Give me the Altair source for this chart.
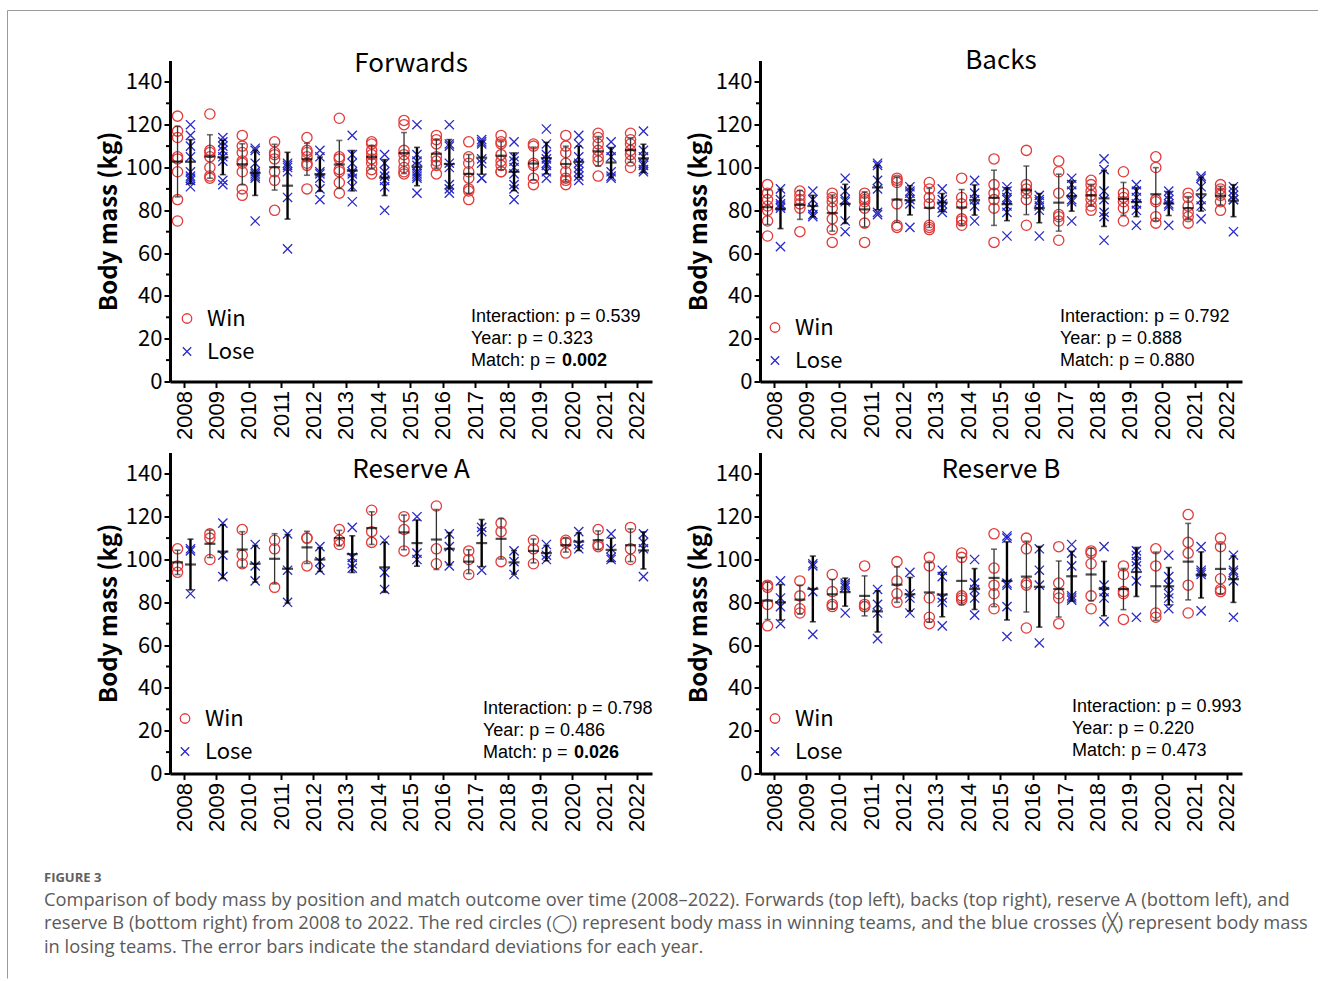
import altair as alt
import pandas as pd

YEARS = list(range(2008, 2023))

# ---------------- data ----------------
fw_win = [
    [124, 117, 114, 105, 104, 98, 85, 75],
    [125, 108, 107, 105, 100, 96, 95],
    [115, 110, 107, 103, 102, 98, 90, 87],
    [112, 107, 106, 104, 98, 94, 80],
    [114, 108, 107, 105, 102, 101, 90],
    [123, 105, 104, 99, 98, 93, 88],
    [112, 111, 108, 106, 104, 102, 99, 97],
    [122, 120, 108, 106, 103, 100, 98, 97],
    [115, 113, 111, 105, 103, 101, 97],
    [112, 105, 102, 98, 95, 90, 89, 85],
    [115, 112, 111, 106, 103, 101, 98, 98],
    [111, 110, 102, 101, 95, 92],
    [115, 110, 107, 102, 98, 95, 94, 92],
    [116, 114, 111, 108, 105, 103, 96],
    [116, 113, 111, 108, 106, 103, 100],
]
fw_lose = [
    [120, 115, 110, 105, 98, 96, 95, 94, 91],
    [114, 112, 110, 108, 105, 103, 94, 92],
    [109, 108, 102, 98, 97, 96, 95, 75],
    [102, 101, 100, 98, 86, 62],
    [108, 105, 98, 97, 95, 90, 85],
    [115, 106, 102, 98, 97, 95, 91, 84],
    [106, 102, 98, 96, 94, 91, 80],
    [120, 106, 103, 101, 98, 97, 96, 95, 88],
    [120, 111, 110, 102, 100, 92, 90, 88],
    [113, 112, 111, 104, 102, 95, 95],
    [112, 105, 103, 100, 97, 92, 90, 85],
    [118, 111, 106, 104, 102, 101, 98, 95],
    [115, 111, 105, 102, 100, 98, 96, 94],
    [112, 108, 105, 98, 96, 95],
    [117, 108, 105, 102, 101, 99, 98],
]
bk_win = [
    [92, 88, 85, 82, 80, 75, 68],
    [89, 87, 85, 83, 81, 70],
    [88, 86, 84, 81, 76, 71, 65],
    [88, 86, 85, 84, 81, 74, 65],
    [95, 94, 93, 83, 73, 72],
    [93, 90, 86, 83, 73, 72, 71],
    [95, 86, 83, 76, 75, 73],
    [104, 92, 88, 85, 81, 65],
    [108, 92, 90, 88, 85, 73],
    [103, 98, 88, 78, 77, 75, 66],
    [94, 92, 89, 87, 85, 82, 80],
    [98, 88, 86, 84, 81, 75],
    [105, 100, 85, 84, 77, 74],
    [88, 86, 82, 79, 77, 74],
    [92, 90, 88, 87, 84, 80],
]
bk_lose = [
    [90, 85, 83, 82, 81, 63],
    [89, 85, 81, 78, 77],
    [95, 89, 85, 84, 75, 70],
    [102, 101, 94, 90, 79, 78],
    [91, 89, 88, 85, 83, 72],
    [90, 85, 83, 81, 79],
    [94, 88, 85, 82, 75],
    [91, 89, 86, 85, 82, 79, 68],
    [87, 85, 84, 82, 80, 68],
    [95, 92, 89, 85, 84, 75],
    [104, 99, 89, 85, 79, 77, 66],
    [92, 89, 86, 83, 80, 73],
    [89, 87, 85, 83, 82, 73],
    [96, 95, 91, 85, 82, 76],
    [91, 89, 87, 85, 85, 70],
]
ra_win = [
    [105, 97, 94],
    [112, 110, 100],
    [114, 102, 98],
    [109, 105, 87],
    [110, 110, 97],
    [114, 109, 107],
    [123, 113, 108],
    [120, 114, 104],
    [125, 105, 98],
    [104, 100, 93],
    [117, 113, 99],
    [109, 105, 98],
    [109, 108, 103],
    [114, 107, 106],
    [115, 105, 100],
]
ra_lose = [
    [105, 104, 84],
    [117, 102, 92],
    [107, 97, 90],
    [112, 95, 80],
    [106, 99, 95],
    [115, 101, 98, 96],
    [109, 94, 86],
    [120, 103, 100],
    [112, 106, 97],
    [115, 113, 95],
    [104, 99, 93],
    [107, 102, 100],
    [113, 107, 105],
    [112, 105, 101, 100],
    [112, 108, 105, 92],
]
rb_win = [
    [88, 87, 79, 69],
    [90, 83, 77, 75],
    [93, 85, 79, 78],
    [97, 79, 78, 78],
    [99, 90, 84, 80],
    [101, 97, 82, 73, 70],
    [103, 101, 83, 82, 81],
    [112, 96, 88, 84, 77],
    [110, 105, 89, 88, 68],
    [106, 89, 84, 82, 70],
    [104, 103, 98, 83, 77],
    [97, 93, 85, 84, 72],
    [105, 97, 75, 73],
    [121, 108, 103, 88, 75],
    [110, 106, 91, 86, 85],
]
rb_lose = [
    [90, 82, 78, 70],
    [98, 97, 85, 65],
    [89, 88, 87, 75],
    [86, 79, 75, 63],
    [94, 84, 82, 75],
    [95, 92, 82, 80, 69],
    [100, 89, 86, 82, 74],
    [111, 110, 89, 88, 78, 64],
    [105, 95, 88, 61],
    [107, 103, 97, 83, 82, 81],
    [106, 88, 85, 82, 71],
    [104, 102, 99, 97, 90, 73],
    [102, 92, 88, 84, 82, 77],
    [106, 95, 94, 93, 76],
    [102, 95, 94, 90, 73],
]

panel_titles = ["Forwards", "Backs", "Reserve A", "Reserve B"]
p_interaction = ["0.539", "0.792", "0.798", "0.993"]
p_year = ["0.323", "0.888", "0.486", "0.220"]
p_match = ["0.002", "0.880", "0.026", "0.473"]
match_bold = [True, False, True, False]

y_major = list(range(0, 141, 20))
y_minor = list(range(10, 140, 20))

caption_head = "FIGURE 3"
caption_lines = [
    "Comparison of body mass by position and match outcome over time (2008\u20132022). Forwards (top left), backs (top right), reserve A (bottom left), and",
    "reserve B (bottom right) from 2008 to 2022. The red circles (\u25ef) represent body mass in winning teams, and the blue crosses (\u2573) represent body mass",
    "in losing teams. The error bars indicate the standard deviations for each year.",
]

# ---------------- styling ----------------
RED = "#e23b3b"
BLUE = "#2a2ac8"
CROSS = "M-1,-1L1,1M-1,1L1,-1"
W, H = 482, 321
CJK = "Noto Sans CJK JP"
ARIAL = "Liberation Sans"

xscale = alt.Scale(domain=[2007.567, 2022.464], nice=False, zero=False)
yscale = alt.Scale(domain=[0, 150], nice=False, zero=True)
xaxis = alt.Axis(values=YEARS, format="d", labelAngle=-90, labelFont=ARIAL, labelFontSize=22,
                 labelColor="black", tickSize=6, tickWidth=2, tickColor="black",
                 domainColor="black", domainWidth=3, grid=False, title=None,
                 labelPadding=3, labelOverlap=False, labelFlush=False)
yaxis = alt.Axis(values=y_major, labelFont=CJK, labelFontSize=22, labelColor="black",
                 tickSize=6, tickWidth=2, tickColor="black", domainColor="black",
                 domainWidth=3, grid=False, title="Body mass (kg)", titleFont=CJK,
                 titleFontSize=24, titleFontWeight="bold", titleColor="black",
                 titlePadding=4, labelPadding=2, labelOverlap=False, labelFlush=False)


def X(f):
    return alt.X(f"{f}:Q", scale=xscale, axis=xaxis)


def Y(f):
    return alt.Y(f"{f}:Q", scale=yscale, axis=yaxis)


def long_df(win, lose):
    rows = []
    for yr, ws, ls in zip(YEARS, win, lose):
        for v in ws:
            rows.append({"year": yr, "outcome": "Win", "mass": v})
        for v in ls:
            rows.append({"year": yr, "outcome": "Lose", "mass": v})
    return pd.DataFrame(rows)


def one():
    return pd.DataFrame({"k": [0]})


def text_layer(txt, x, y, size, font, weight="normal", align="left", color="black"):
    return alt.Chart(pd.DataFrame({"t": [txt]})).mark_text(
        font=font, fontSize=size, fontWeight=weight, align=align, baseline="middle", color=color
    ).encode(text="t:N", x=alt.value(x), y=alt.value(y))


def panel(i, win, lose, title_y, leg_x, leg_y, stat_x, stat_y, extra=None):
    df = long_df(win, lose)
    base = alt.Chart(df).transform_calculate(
        xpos="datum.year + (datum.outcome == 'Win' ? -0.2 : 0.2)"
    )
    layers = []
    layers.append(base.transform_filter("datum.outcome == 'Win'").mark_point(
        shape="circle", filled=False, color=RED, size=105, strokeWidth=1.3, opacity=1
    ).encode(x=X("xpos"), y=Y("mass")))
    layers.append(base.transform_filter("datum.outcome == 'Lose'").mark_point(
        shape=CROSS, filled=False, color=BLUE, size=85, strokeWidth=1.3, opacity=1
    ).encode(x=X("xpos"), y=Y("mass")))

    stats = base.transform_aggregate(
        m="mean(mass)", sd="stdev(mass)", groupby=["xpos", "outcome"]
    ).transform_calculate(lo="datum.m - datum.sd", hi="datum.m + datum.sd")
    for outcome, color, sw in [("Win", "#333333", 1.3), ("Lose", "black", 2.4)]:
        s = stats.transform_filter(f"datum.outcome == '{outcome}'")
        layers.append(s.mark_rule(color=color, strokeWidth=sw).encode(
            x=X("xpos"), y=Y("lo"), y2="hi:Q"))
        for f in ["lo", "hi"]:
            layers.append(s.mark_tick(orient="horizontal", size=6, thickness=1.6, color=color).encode(
                x=X("xpos"), y=Y(f)))
        layers.append(s.mark_tick(orient="horizontal", size=11, thickness=2.2, color="black").encode(
            x=X("xpos"), y=Y("m")))

    # minor y ticks
    layers.append(alt.Chart(pd.DataFrame({"v": y_minor})).mark_rule(color="black", strokeWidth=2).encode(
        y=Y("v"), x=alt.value(-4), x2=alt.value(0)))

    # panel title
    layers.append(text_layer(panel_titles[i], W / 2, title_y, 26, CJK, align="center"))

    # legend
    layers.append(alt.Chart(one()).mark_point(shape="circle", filled=False, color=RED, size=90,
                                              strokeWidth=1.3, opacity=1).encode(
        x=alt.value(leg_x), y=alt.value(leg_y)))
    layers.append(alt.Chart(one()).mark_point(shape=CROSS, filled=False, color=BLUE, size=70,
                                              strokeWidth=1.3, opacity=1).encode(
        x=alt.value(leg_x), y=alt.value(leg_y + 33)))
    layers.append(text_layer("Win", leg_x + 20, leg_y, 22, CJK))
    layers.append(text_layer("Lose", leg_x + 20, leg_y + 33, 22, CJK))

    # statistics
    layers.append(text_layer(f"Interaction: p = {p_interaction[i]}", stat_x, stat_y, 18, ARIAL))
    layers.append(text_layer(f"Year: p = {p_year[i]}", stat_x, stat_y + 22, 18, ARIAL))
    if match_bold[i]:
        layers.append(text_layer("Match: p =", stat_x, stat_y + 44, 18, ARIAL))
        layers.append(text_layer(p_match[i], stat_x + 91, stat_y + 44, 18, ARIAL, weight="bold"))
    else:
        layers.append(text_layer(f"Match: p = {p_match[i]}", stat_x, stat_y + 44, 18, ARIAL))

    if extra:
        layers.extend(extra)
    return alt.layer(*layers).properties(width=W, height=H)


# figure frame (drawn relative to the first panel)
frame = [
    alt.Chart(one()).mark_rule(color="#9a9a9a", strokeWidth=1).encode(
        x=alt.value(-162.5), x2=alt.value(1148), y=alt.value(-50)),
    alt.Chart(one()).mark_rule(color="#9a9a9a", strokeWidth=1).encode(
        x=alt.value(-162.5), y=alt.value(-50), y2=alt.value(918)),
]

# caption (drawn relative to the third panel)
caption = [text_layer(caption_head, -126, 425, 13, "Open Sans", weight="bold", color="#606060")]
for k, line in enumerate(caption_lines):
    caption.append(text_layer(line, -126, 448 + k * 23.5, 18.3, "Open Sans", color="#5a5a5a"))

fw = panel(0, fw_win, fw_lose, 3, 17, 258, 301, 256, extra=frame)
bk = panel(1, bk_win, bk_lose, 0, 15, 267, 300, 256)
ra = panel(2, ra_win, ra_lose, 17, 15, 266, 313, 256, extra=caption)
rb = panel(3, rb_win, rb_lose, 17, 15, 266, 312, 254)

chart = alt.concat(
    fw, bk, ra, rb, columns=2, spacing={"row": 71, "column": 108}, bounds="flush"
).properties(
    padding={"left": 7, "top": 9.5, "right": 0, "bottom": 0},
    background="white",
).configure_view(stroke=None)

chart.save("out.html", embed_options={"renderer": "svg", "actions": False})
